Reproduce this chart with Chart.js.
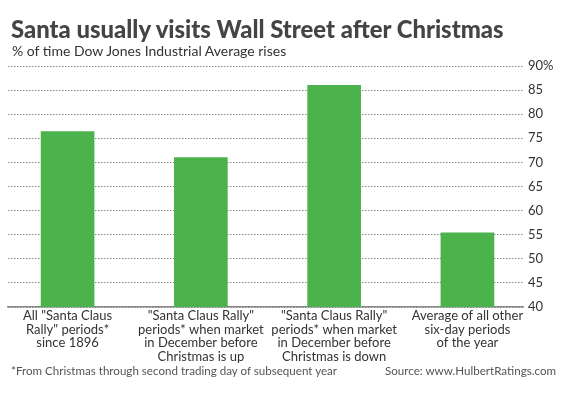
<!DOCTYPE html>
<html>
<head>
<meta charset="utf-8">
<script src="https://cdn.jsdelivr.net/npm/chart.js@4.4.1/dist/chart.umd.min.js"></script>
<style>
  html, body { margin: 0; padding: 0; background: #fff; }
  #wrap { position: relative; width: 569px; height: 398px; overflow: hidden; font-family: Lato, sans-serif; }
  #myChart { position: absolute; left: 0; top: 0; }
  .titulo { position: absolute; left: 11px; top: 13px; font-size: 25.5px; font-weight: 900; color: #444; white-space: nowrap; transform-origin: 0 0; transform: scaleX(0.936); }
  .subtitulo { position: absolute; left: 12px; top: 42px; font-size: 14px; color: #333; white-space: nowrap; }
  .nota { position: absolute; top: 364px; font-size: 11.6px; color: #555; white-space: nowrap; }
</style>
</head>
<body>
<div id="wrap">
  <canvas id="myChart" width="569" height="398"></canvas>
  <div class="titulo">Santa usually visits Wall Street after Christmas</div>
  <div class="subtitulo">% of time Dow Jones Industrial Average rises</div>
  <div class="nota" style="left:11px">*From Christmas through second trading day of subsequent year</div>
  <div class="nota" style="right:13px">Source: www.HulbertRatings.com</div>
</div>
<script>
const categorias = [
    ['All "Santa Claus', 'Rally" periods*', 'since 1896'],
    ['"Santa Claus Rally"', 'periods* when market', 'in December before', 'Christmas is up'],
    ['"Santa Claus Rally"', 'periods* when market', 'in December before', 'Christmas is down'],
    ['Average of all other', 'six-day periods', 'of the year']
];
const porcentajes = [76.4, 71, 86, 55.4];
const ticksY = [40, 45, 50, 55, 60, 65, 70, 75, 80, 85, 90];

const verde = '#4cb34c';
const fuente = 'Lato, sans-serif';

const puntos = porcentajes.map((v, i) => ({ x: i, y: v }));

const config = {
    type: 'bar',
    data: {
        datasets: [{
            data: puntos,
            backgroundColor: verde,
            borderWidth: 0,
            barThickness: 53
        }]
    },
    options: {
        responsive: false,
        animation: false,
        layout: { padding: { top: 66, left: 8, right: 0, bottom: 0 } },
        plugins: {
            legend: { display: false },
            tooltip: { enabled: false }
        },
        scales: {
            x: {
                type: 'linear',
                offset: false,
                min: -0.447,
                max: 3.417,
                grid: { display: false, drawTicks: false },
                border: { display: true, color: '#888', width: 1.5 },
                afterBuildTicks: axis => { axis.ticks = categorias.map((c, i) => ({ value: i })); },
                afterFit: axis => { axis.height = 91; },
                ticks: {
                    autoSkip: false,
                    maxRotation: 0,
                    padding: 2,
                    color: '#333',
                    font: { family: fuente, size: 13, lineHeight: 1.05 },
                    callback: value => categorias[value]
                }
            },
            y: {
                position: 'right',
                min: 40,
                max: 90,
                afterBuildTicks: axis => { axis.ticks = ticksY.map(v => ({ value: v })); },
                afterFit: axis => { axis.width = 46; },
                grid: { color: '#888', lineWidth: 1, drawTicks: false },
                border: { display: false, dash: [1.5, 1.5] },
                ticks: {
                    padding: 5,
                    color: '#333',
                    font: { family: fuente, size: 13 },
                    callback: v => (v === 90 ? v + '%' : v)
                }
            }
        }
    }
};

const chartDOM = document.getElementById('myChart');
window.myChart = new Chart(chartDOM, config);
</script>
</body>
</html>
